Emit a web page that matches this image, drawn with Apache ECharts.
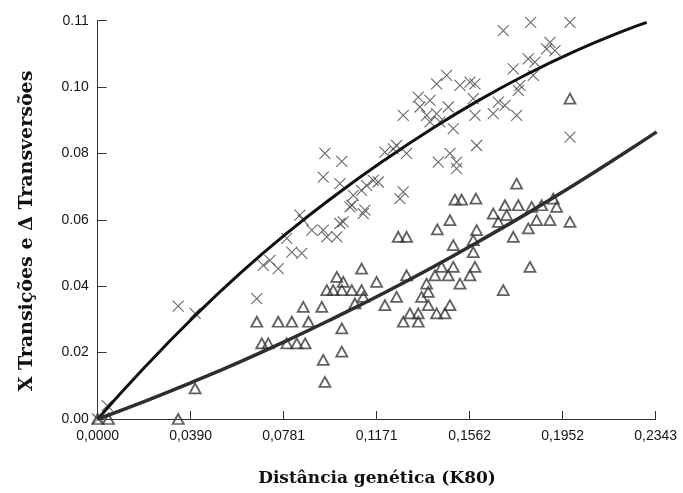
<!DOCTYPE html>
<html>
<head>
<meta charset="utf-8">
<script src="https://cdn.jsdelivr.net/npm/echarts@6/dist/echarts.min.js"></script>
<style>
  html, body { margin: 0; padding: 0; background: #fff; }
  #chart { width: 683px; height: 493px; }
</style>
</head>
<body>
<div id="chart"></div>
<script>
// Axis tick labels
const xTickLabels = ['0,0000', '0,0390', '0,0781', '0,1171', '0,1562', '0,1952', '0,2343'];
const yTickLabels = ['0.00', '0.02', '0.04', '0.06', '0.08', '0.10', '0.11'];

// Transitions (X) vs genetic distance
const transitions = [
  [0.0000, 0.0000], [0.0040, 0.0040], [0.0338, 0.0340], [0.0409, 0.0318],
  [0.0668, 0.0363], [0.0695, 0.0463], [0.0723, 0.0478], [0.0758, 0.0453],
  [0.0794, 0.0544], [0.0815, 0.0503], [0.0857, 0.0499], [0.0849, 0.0614],
  [0.0863, 0.0599], [0.0899, 0.0569], [0.0947, 0.0569], [0.0962, 0.0549],
  [0.1004, 0.0549], [0.1017, 0.0589], [0.1031, 0.0594], [0.1067, 0.0644],
  [0.1115, 0.0619], [0.0954, 0.0800], [0.1025, 0.0776], [0.0947, 0.0729],
  [0.1017, 0.0709], [0.1073, 0.0674], [0.1108, 0.0689], [0.1059, 0.0639],
  [0.1157, 0.0719], [0.1122, 0.0629], [0.1703, 0.1170], [0.1818, 0.1195],
  [0.1983, 0.1195], [0.2347, 0.1125], [0.1899, 0.1135], [0.1920, 0.1110],
  [0.1885, 0.1115], [0.1808, 0.1085], [0.1836, 0.1075], [0.1745, 0.1055],
  [0.1829, 0.1035], [0.1773, 0.1005], [0.1766, 0.0990], [0.1423, 0.1010],
  [0.1465, 0.1035], [0.1521, 0.1005], [0.1563, 0.1015], [0.1584, 0.1010],
  [0.1346, 0.0970], [0.1395, 0.0960], [0.1283, 0.0915], [0.1353, 0.0940],
  [0.1381, 0.0915], [0.1423, 0.0920], [0.1472, 0.0940], [0.1395, 0.0895],
  [0.1437, 0.0895], [0.1493, 0.0875], [0.1577, 0.0965], [0.1584, 0.0915],
  [0.1661, 0.0920], [0.1682, 0.0955], [0.1710, 0.0945], [0.1759, 0.0915],
  [0.1983, 0.0849], [0.1591, 0.0824], [0.1479, 0.0800], [0.1430, 0.0774],
  [0.1507, 0.0774], [0.1507, 0.0754], [0.1206, 0.0804], [0.1241, 0.0814],
  [0.1255, 0.0824], [0.1297, 0.0800], [0.1178, 0.0714], [0.1129, 0.0704],
  [0.1283, 0.0684], [0.1269, 0.0664]
];

// Transversions (triangles) vs genetic distance
const transversions = [
  [0.0000, 0.0000], [0.0045, 0.0000], [0.0338, 0.0000], [0.0409, 0.0092],
  [0.0668, 0.0293], [0.0689, 0.0228], [0.0716, 0.0228], [0.0758, 0.0293],
  [0.0815, 0.0293], [0.0794, 0.0228], [0.0836, 0.0228], [0.0871, 0.0228],
  [0.0885, 0.0293], [0.0863, 0.0338], [0.0941, 0.0338], [0.0947, 0.0178],
  [0.0954, 0.0112], [0.1025, 0.0273], [0.1025, 0.0203], [0.0962, 0.0388],
  [0.1004, 0.0428], [0.0989, 0.0388], [0.1031, 0.0413], [0.1025, 0.0388],
  [0.1067, 0.0388], [0.1108, 0.0453], [0.1108, 0.0388], [0.1080, 0.0348],
  [0.1115, 0.0368], [0.1171, 0.0413], [0.1759, 0.0709], [0.1500, 0.0661],
  [0.1528, 0.0661], [0.1588, 0.0664], [0.1661, 0.0619], [0.1710, 0.0644],
  [0.1717, 0.0614], [0.1766, 0.0644], [0.1822, 0.0639], [0.1864, 0.0644],
  [0.1913, 0.0664], [0.1927, 0.0639], [0.1682, 0.0594], [0.1843, 0.0599],
  [0.1899, 0.0599], [0.1983, 0.0594], [0.1808, 0.0574], [0.1745, 0.0549],
  [0.1815, 0.0458], [0.1703, 0.0388], [0.1479, 0.0599], [0.1426, 0.0571],
  [0.1591, 0.0569], [0.1493, 0.0524], [0.1577, 0.0539], [0.1577, 0.0503],
  [0.1262, 0.0549], [0.1297, 0.0549], [0.1444, 0.0458], [0.1493, 0.0458],
  [0.1584, 0.0458], [0.1563, 0.0433], [0.1416, 0.0433], [0.1472, 0.0433],
  [0.1297, 0.0433], [0.1521, 0.0408], [0.1381, 0.0408], [0.1388, 0.0383],
  [0.1255, 0.0368], [0.1206, 0.0343], [0.1360, 0.0368], [0.1311, 0.0318],
  [0.1283, 0.0293], [0.1346, 0.0318], [0.1346, 0.0293], [0.1388, 0.0343],
  [0.1423, 0.0318], [0.1458, 0.0318], [0.1479, 0.0343], [0.1983, 0.0965],
  [0.2347, 0.0965]
];

// Fitted trend curves
const transitionCurve = [
  [0.0000, 0.0000], [0.0200, 0.0158], [0.0400, 0.0305], [0.0600, 0.0440],
  [0.0800, 0.0563], [0.1000, 0.0675], [0.1200, 0.0778], [0.1400, 0.0873],
  [0.1600, 0.0960], [0.1800, 0.1038], [0.2000, 0.1107], [0.2200, 0.1167],
  [0.2305, 0.1195]
];
const transversionCurve = [
  [0.0000, 0.0000], [0.0200, 0.0054], [0.0400, 0.0112], [0.0600, 0.0173],
  [0.0800, 0.0238], [0.1000, 0.0307], [0.1200, 0.0379], [0.1400, 0.0455],
  [0.1600, 0.0535], [0.1800, 0.0618], [0.2000, 0.0705], [0.2200, 0.0796],
  [0.2347, 0.0865]
];

const X_STEP = 0.03905;
const Y_STEP = 0.02;

const chart = echarts.init(document.getElementById('chart'), null, { renderer: 'canvas' });

const tickFont = { fontFamily: '"Liberation Sans", Arial, sans-serif', fontSize: 14, color: '#151515' };
const axisLine = { show: true, lineStyle: { color: '#333', width: 1 } };

chart.setOption({
  backgroundColor: '#ffffff',
  animation: false,
  grid: { left: 97.7, right: 27.3, top: 20.7, bottom: 74 },
  xAxis: {
    type: 'value',
    min: 0,
    max: X_STEP * 6,
    interval: X_STEP,
    splitLine: { show: false },
    axisLine: axisLine,
    axisTick: { show: true, inside: true, length: 8, lineStyle: { color: '#333' } },
    axisLabel: Object.assign({
      margin: 10,
      showMaxLabel: true,
      showMinLabel: true,
      formatter: v => xTickLabels[Math.round(v / X_STEP)] || ''
    }, tickFont)
  },
  yAxis: {
    type: 'value',
    min: 0,
    max: Y_STEP * 6,
    interval: Y_STEP,
    splitLine: { show: false },
    axisLine: axisLine,
    axisTick: { show: true, inside: true, length: 9, lineStyle: { color: '#333' } },
    axisLabel: Object.assign({
      margin: 9,
      showMaxLabel: true,
      formatter: v => yTickLabels[Math.round(v / Y_STEP)] || ''
    }, tickFont)
  },
  graphic: [
    {
      type: 'text',
      x: 27, y: 231,
      rotation: Math.PI / 2,
      style: {
        text: 'X Transições e Δ Transversões',
        font: 'bold 19px "DejaVu Serif", serif',
        fill: '#111',
        align: 'center',
        verticalAlign: 'middle'
      }
    },
    {
      type: 'text',
      x: 377, y: 479,
      style: {
        text: 'Distância genética (K80)',
        font: 'bold 17px "DejaVu Serif", serif',
        fill: '#111',
        align: 'center',
        verticalAlign: 'middle'
      }
    }
  ],
  series: [
    {
      name: 'Transições',
      type: 'scatter',
      data: transitions,
      symbol: 'path://M0,0L10,10M10,0L0,10',
      symbolSize: 11,
      itemStyle: { color: 'rgba(0,0,0,0)', borderColor: '#444', borderWidth: 1.1 },
      z: 2
    },
    {
      name: 'Transversões',
      type: 'scatter',
      data: transversions,
      symbol: 'triangle',
      symbolSize: [11, 10],
      itemStyle: { color: 'rgba(0,0,0,0)', borderColor: '#3a3a3a', borderWidth: 1.8 },
      z: 2
    },
    {
      type: 'line',
      data: transitionCurve,
      smooth: true,
      showSymbol: false,
      lineStyle: { color: '#111', width: 3 },
      z: 3
    },
    {
      type: 'line',
      data: transversionCurve,
      smooth: true,
      showSymbol: false,
      lineStyle: { color: '#2e2e2e', width: 3.5 },
      z: 3
    }
  ]
});
</script>
</body>
</html>
